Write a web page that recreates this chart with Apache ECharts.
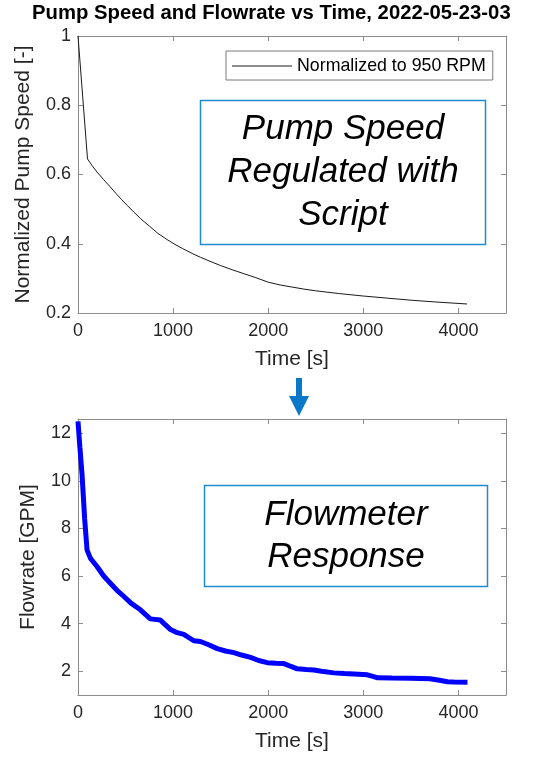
<!DOCTYPE html>
<html>
<head>
<meta charset="utf-8">
<script src="https://cdn.jsdelivr.net/npm/echarts@6/dist/echarts.min.js"></script>
<style>html,body{margin:0;padding:0;background:#fff}#c{width:550px;height:761px}</style>
</head>
<body>
<div id="c"></div>
<script>
// ---- data ----
var titleText = 'Pump Speed and Flowrate vs Time, 2022-05-23-03';
var legendName = 'Normalized to 950 RPM';
var xTicks = [0, 1000, 2000, 3000, 4000];
var speedTicks = [0.2, 0.4, 0.6, 0.8, 1];
var flowTicks = [2, 4, 6, 8, 10, 12];

var speedTime = [0, 100, 150, 200, 270, 340, 400, 460, 520, 585, 660, 750, 840, 937, 1020, 1100, 1200, 1287, 1400, 1500, 1620, 1750, 1870, 2000, 2125, 2250, 2375, 2500, 2750, 3000, 3250, 3500, 3750, 4090];
var speedValue = [1.0, 0.645, 0.625, 0.607, 0.585, 0.564, 0.545, 0.527, 0.51, 0.492, 0.472, 0.451, 0.43, 0.412, 0.398, 0.386, 0.372, 0.361, 0.348, 0.337, 0.325, 0.313, 0.302, 0.289, 0.281, 0.275, 0.269, 0.264, 0.256, 0.249, 0.243, 0.237, 0.232, 0.226];

var flowTime = [0, 20, 42, 70, 95, 130, 200, 270, 340, 410, 480, 560, 656, 760, 866, 973, 1042, 1112, 1217, 1287, 1380, 1463, 1550, 1638, 1720, 1814, 1900, 1989, 2080, 2165, 2240, 2305, 2400, 2480, 2560, 2690, 2800, 2900, 3042, 3100, 3150, 3300, 3500, 3700, 3800, 3884, 3950, 4095];
var flowValue = [12.5, 11.4, 10.3, 8.4, 7.1, 6.75, 6.4, 6.0, 5.7, 5.4, 5.15, 4.85, 4.58, 4.2, 4.15, 3.75, 3.62, 3.55, 3.28, 3.25, 3.1, 2.95, 2.85, 2.78, 2.68, 2.58, 2.45, 2.36, 2.33, 2.32, 2.2, 2.1, 2.07, 2.05, 2.0, 1.93, 1.9, 1.88, 1.85, 1.78, 1.72, 1.71, 1.70, 1.68, 1.62, 1.56, 1.55, 1.54];

function zip(a, b) { return a.map(function (v, i) { return [v, b[i]]; }); }

var FONT = "'Liberation Sans', Arial, sans-serif";
var AX = '#8c8c8c';
var TXT = '#262626';

function xAx(grid, name, pos) {
  var main = pos === 'bottom';
  return {
    type: 'value', gridIndex: grid, position: pos, min: 0, max: 4500,
    name: main ? name : '', nameLocation: 'middle', nameGap: 36,
    nameTextStyle: { fontFamily: FONT, fontSize: 21, color: TXT },
    axisLine: { show: true, onZero: false, lineStyle: { color: AX, width: 1 } },
    axisTick: { show: true, inside: true, length: 5, customValues: xTicks, lineStyle: { color: AX } },
    axisLabel: { show: main, customValues: xTicks, margin: 9, fontFamily: FONT, fontSize: 18, color: TXT,
      formatter: function (v) { return String(v); } },
    splitLine: { show: false }
  };
}
function yAx(grid, name, pos, min, max, ticks, gap) {
  var main = pos === 'left';
  return {
    type: 'value', gridIndex: grid, position: pos, min: min, max: max,
    name: main ? name : '', nameLocation: 'middle', nameGap: gap,
    nameTextStyle: { fontFamily: FONT, fontSize: 21, color: TXT },
    axisLine: { show: true, onZero: false, lineStyle: { color: AX, width: 1 } },
    axisTick: { show: true, inside: true, length: 5, customValues: ticks, lineStyle: { color: AX } },
    axisLabel: { show: main, customValues: ticks, margin: 7, fontFamily: FONT, fontSize: 18, color: TXT,
      formatter: function (v) { return String(+v.toFixed(2)); } },
    splitLine: { show: false }
  };
}

var chart = echarts.init(document.getElementById('c'), null, { renderer: 'canvas' });
chart.setOption({
  backgroundColor: '#fff',
  animation: false,
  title: {
    text: titleText, left: 32, top: 3, padding: 0,
    textStyle: { fontFamily: FONT, fontSize: 20.3, fontWeight: 'bold', color: '#000' }
  },
  legend: {
    data: [legendName], left: 226, top: 51, orient: 'horizontal',
    padding: [6, 7, 5, 6], borderColor: '#7a7a7a', borderWidth: 1, backgroundColor: '#fff',
    icon: 'rect', itemWidth: 60, itemHeight: 1,
    textStyle: { fontFamily: FONT, fontSize: 17.8, color: '#000' }
  },
  grid: [
    { left: 78, top: 36, right: 44, height: 277 },
    { left: 78, top: 419, right: 44, height: 276 }
  ],
  xAxis: [
    xAx(0, 'Time [s]', 'bottom'), xAx(0, '', 'top'),
    xAx(1, 'Time [s]', 'bottom'), xAx(1, '', 'top')
  ],
  yAxis: [
    yAx(0, 'Normalized Pump Speed [-]', 'left', 0.2, 1, speedTicks, 44),
    yAx(0, '', 'right', 0.2, 1, speedTicks, 0),
    yAx(1, 'Flowrate [GPM]', 'left', 1, 12.6, flowTicks, 39),
    yAx(1, '', 'right', 1, 12.6, flowTicks, 0)
  ],
  series: [
    {
      name: legendName, type: 'line', xAxisIndex: 0, yAxisIndex: 0,
      data: zip(speedTime, speedValue), showSymbol: false, smooth: false,
      lineStyle: { color: '#1a1a1a', width: 1 }, itemStyle: { color: '#1a1a1a' }
    },
    {
      name: 'Flowrate', type: 'line', xAxisIndex: 2, yAxisIndex: 2,
      data: zip(flowTime, flowValue), showSymbol: false,
      lineStyle: { color: '#0000ff', width: 5 }, itemStyle: { color: '#0000ff' }
    }
  ],
  graphic: [
    {
      type: 'rect', shape: { x: 200.5, y: 100.5, width: 285, height: 144 },
      style: { fill: '#fff', stroke: '#1f8bd0', lineWidth: 1.5 }, z: 10
    },
    {
      type: 'text', x: 343, y: 172, z: 11,
      style: {
        text: 'Pump Speed\nRegulated with\nScript', align: 'center', verticalAlign: 'middle',
        font: 'italic 35px ' + FONT, lineHeight: 43, fill: '#000'
      }
    },
    {
      type: 'rect', shape: { x: 204.5, y: 485.5, width: 283, height: 101 },
      style: { fill: '#fff', stroke: '#1f8bd0', lineWidth: 1.5 }, z: 10
    },
    {
      type: 'text', x: 346, y: 536, z: 11,
      style: {
        text: 'Flowmeter\nResponse', align: 'center', verticalAlign: 'middle',
        font: 'italic 35px ' + FONT, lineHeight: 42, fill: '#000'
      }
    },
    {
      type: 'polygon', z: 10,
      shape: { points: [[296, 378], [302, 378], [302, 396], [309, 396], [299, 416], [289, 396], [296, 396]] },
      style: { fill: '#0a78c8' }
    }
  ]
});
</script>
</body>
</html>
